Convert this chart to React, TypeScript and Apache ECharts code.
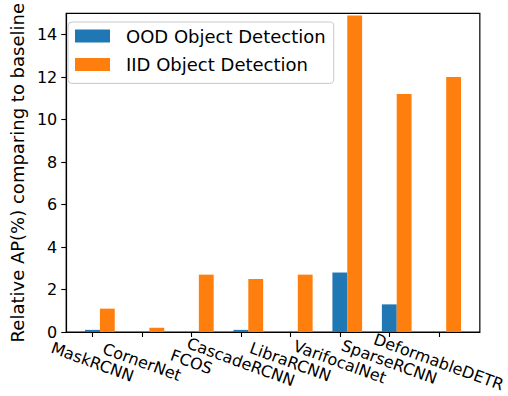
import React, { useEffect, useRef } from "react";
import * as echarts from "echarts";

const categories = [
  "MaskRCNN",
  "CornerNet",
  "FCOS",
  "CascadeRCNN",
  "LibraRCNN",
  "VarifocalNet",
  "SparseRCNN",
  "DeformableDETR",
];
const oodValues = [0.1, 0, 0, 0.1, 0, 2.8, 1.3, 0];
const iidValues = [1.1, 0.2, 2.7, 2.5, 2.7, 14.9, 11.2, 12.0];
const yTicks = [0, 2, 4, 6, 8, 10, 12, 14];
const xTicks = categories.map((_, i) => i);
const seriesNames = ["OOD Object Detection", "IID Object Detection"];
const yAxisTitle = "Relative AP(%) comparing to baseline";

const FONT = "'DejaVu Sans', sans-serif";
const FS = 18;
const TICK_FS = 16;
const BAR_W = 0.3;

function barRenderer(offset: number) {
  return (_params: any, api: any) => {
    const x = api.value(0);
    const v = api.value(1);
    const p0 = api.coord([x + offset - BAR_W / 2, v]);
    const p1 = api.coord([x + offset + BAR_W / 2, 0]);
    return {
      type: "rect",
      shape: { x: p0[0], y: p0[1], width: p1[0] - p0[0], height: p1[1] - p0[1] },
      style: { fill: api.visual("color") },
    };
  };
}

export default function App() {
  const ref = useRef<HTMLDivElement>(null);
  useEffect(() => {
    if (!ref.current) return;
    const chart = echarts.init(ref.current, undefined, { renderer: "svg" });
    chart.setOption({
      animation: false,
      backgroundColor: "#ffffff",
      textStyle: { fontFamily: FONT },
      grid: {
        left: 59,
        top: 13,
        right: 20,
        bottom: 64,
        show: true,
        borderColor: "#000",
        borderWidth: 1.2,
        containLabel: false,
      },
      legend: {
        orient: "vertical",
        left: 68,
        top: 22,
        icon: "rect",
        itemWidth: 35,
        itemHeight: 13,
        itemGap: 10.4,
        padding: [5, 8, 10, 7],
        borderColor: "#c8c8c8",
        borderWidth: 1,
        borderRadius: 4,
        backgroundColor: "rgba(255,255,255,0.8)",
        data: seriesNames,
        textStyle: {
          fontFamily: FONT,
          fontSize: FS,
          color: "#000",
          padding: [0, 0, 0, 11],
        },
      },
      xAxis: {
        type: "value",
        min: -0.53,
        max: 7.83,
        splitLine: { show: false },
        axisLine: { show: true, onZero: false, lineStyle: { color: "#000", width: 1.2 } },
        axisTick: {
          show: true,
          customValues: xTicks,
          length: 5,
          lineStyle: { color: "#000", width: 1.1 },
        },
        axisLabel: {
          customValues: xTicks,
          interval: 0,
          formatter: (v: number) => categories[Math.round(v)] ?? "",
          rotate: -20,
          align: "center",
          verticalAlign: "middle",
          margin: 30,
          showMinLabel: true,
          showMaxLabel: true,
          hideOverlap: false,
          fontFamily: FONT,
          fontSize: TICK_FS,
          color: "#000",
        },
      },
      yAxis: {
        type: "value",
        min: 0,
        max: 15,
        name: yAxisTitle,
        nameLocation: "middle",
        nameGap: 36,
        nameTextStyle: { fontFamily: FONT, fontSize: FS, color: "#000" },
        splitLine: { show: false },
        axisLine: { show: true, onZero: false, lineStyle: { color: "#000", width: 1.2 } },
        axisTick: {
          show: true,
          customValues: yTicks,
          length: 5,
          lineStyle: { color: "#000", width: 1.1 },
        },
        axisLabel: {
          customValues: yTicks,
          margin: 9,
          fontFamily: FONT,
          fontSize: TICK_FS,
          color: "#000",
        },
      },
      series: [
        {
          name: seriesNames[0],
          type: "custom",
          itemStyle: { color: "#1f77b4" },
          renderItem: barRenderer(0),
          encode: { x: 0, y: 1 },
          data: oodValues.map((v, i) => [i, v]),
        },
        {
          name: seriesNames[1],
          type: "custom",
          itemStyle: { color: "#ff7f0e" },
          renderItem: barRenderer(BAR_W),
          encode: { x: 0, y: 1 },
          data: iidValues.map((v, i) => [i, v]),
        },
      ],
    });
    return () => chart.dispose();
  }, []);
  return (
    <div
      ref={ref}
      style={{ position: "absolute", left: 0, top: 0, width: 508, height: 396, background: "#fff" }}
    />
  );
}
